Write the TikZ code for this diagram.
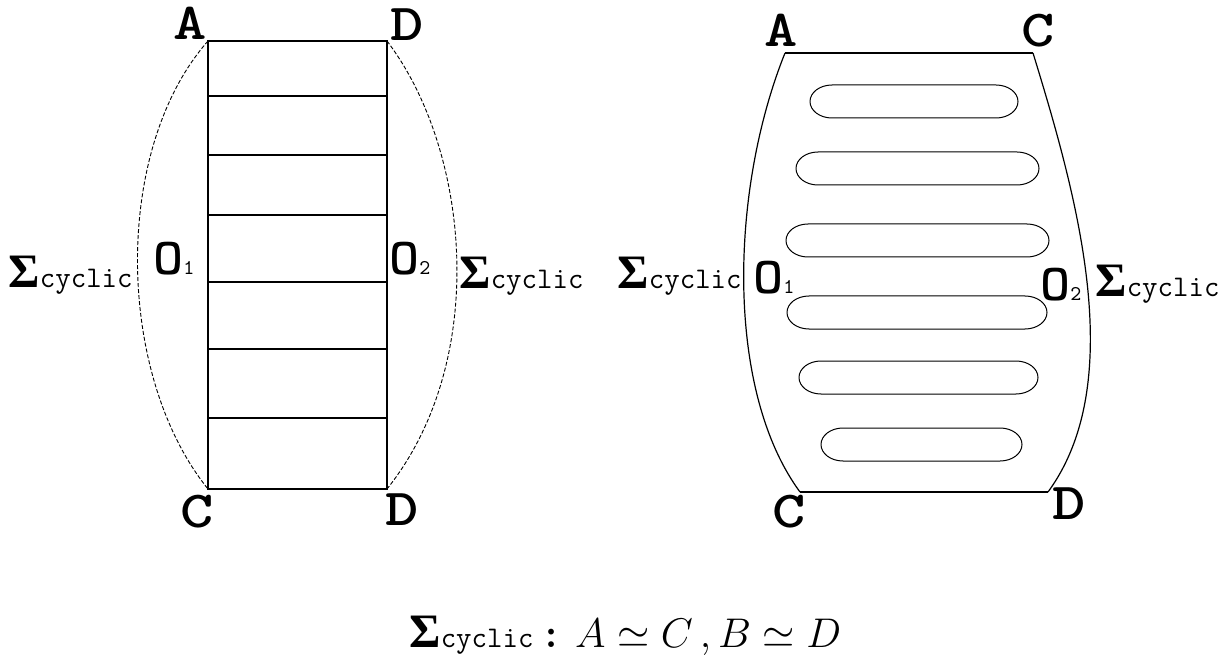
\documentclass[tikz,border=0pt]{standalone}
\usepackage{graphicx}
\usepackage{fontspec}
\newfontfamily\sigfam{Liberation Serif}
\newcommand{\sigcyc}{{\sigfam\bfseries\fontsize{24pt}{24pt}\selectfont Σ}{\ttfamily\mdseries\fontsize{15pt}{15pt}\selectfont cyclic}}
\newcommand{\orig}[1]{\scalebox{1.1}[1]{O}{\mdseries\fontsize{10.5pt}{10.5pt}\selectfont #1}}
\newcommand{\vtx}[1]{\scalebox{1.22}[1]{#1}}

\begin{document}
\begin{tikzpicture}[
  x=0.5pt, y=-0.5pt,
  rim/.style={line width=0.6pt},
  seam/.style={line width=0.45pt, dash pattern=on 2pt off 1pt},
  capsule/.style={line width=0.5pt},
  corner/.style={font=\ttfamily\bfseries\fontsize{26pt}{26pt}\selectfont, inner sep=0pt},
  tag/.style={inner sep=0pt}
]
  \useasboundingbox (0,0) rectangle (1228,658);

  % left: strip cut into bands
  \coordinate (ltl) at (208,41);
  \coordinate (ltr) at (387,41);
  \coordinate (lbl) at (208,489);
  \coordinate (lbr) at (387,489);
  \draw[rim] (ltl) rectangle (lbr);
  \foreach \yy in {96,155,215,282,349,418}
    \draw[rim] (208,\yy) -- (387,\yy);
  \draw[seam] (ltl) .. controls (112,150) and (116,375) .. (lbl);
  \draw[seam] (ltr) .. controls (470,150) and (490,360) .. (lbr);

  \node[corner, anchor=base] (la) at (190,40) {\vtx{A}};
  \node[corner, anchor=base] (ld) at (407,41) {\vtx{D}};
  \node[corner, anchor=base] (lc) at (197,527) {\vtx{C}};
  \node[corner, anchor=base] (ldd) at (402,525) {\vtx{D}};
  \node[corner, anchor=base west] (lo1) at (153,275) {\orig{1}};
  \node[corner, anchor=base west] (lo2) at (389,275) {\orig{2}};
  \node[tag, anchor=base east] (lsig) at (133,287) {\sigcyc};
  \node[tag, anchor=base west] (rsig) at (459,288) {\sigcyc};

  % right: bent strip with holes
  \coordinate (rtl) at (785,53);
  \coordinate (rtr) at (1033,53);
  \coordinate (rbl) at (800,492);
  \coordinate (rbr) at (1048,492);
  \draw[rim] (rtl) -- (rtr);
  \draw[rim] (rbl) -- (rbr);
  \draw[rim] (rtl) .. controls (730,190) and (725,390) .. (rbl);
  \draw[rim] (rtr) .. controls (1075,190) and (1130,380) .. (rbr);
  \foreach \xa/\xb/\ya in {810/1018/85, 796/1039/152, 786/1049/224,
                           787/1047/296, 799/1038/361, 821/1022/428}
    \draw[capsule] (\xa+22,\ya) -- (\xb-22,\ya)
      arc[start angle=90, end angle=-90, x radius=11pt, y radius=8.25pt]
      -- (\xa+22,\ya+33)
      arc[start angle=270, end angle=90, x radius=11pt, y radius=8.25pt] -- cycle;

  \node[corner, anchor=base] (ra) at (781,47) {\vtx{A}};
  \node[corner, anchor=base] (rc) at (1038,47) {\vtx{C}};
  \node[corner, anchor=base] (rcc) at (789,527) {\vtx{C}};
  \node[corner, anchor=base] (rd) at (1069,519) {\vtx{D}};
  \node[corner, anchor=base west] (ro1) at (753,293) {\orig{1}};
  \node[corner, anchor=base west] (ro2) at (1040,300) {\orig{2}};
  \node[tag, anchor=base east] (rlsig) at (742,288) {\sigcyc};
  \node[tag, anchor=base west] (rrsig) at (1095,297) {\sigcyc};

  % identification rule
  \node[tag, anchor=base west, font=\fontsize{21pt}{21pt}\selectfont] (rule) at (409,647)
    {\sigcyc\,{\ttfamily\bfseries :}\ $A\simeq C\,,B\simeq D$};
\end{tikzpicture}
\end{document}
